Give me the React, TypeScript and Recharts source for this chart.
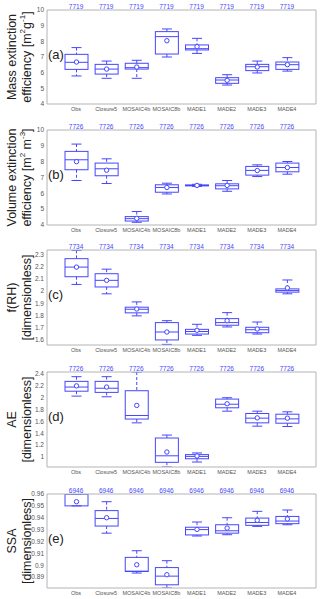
import React from 'react';
import { ComposedChart, Bar, XAxis, YAxis } from 'recharts';

const CATEGORIES = ['Obs', 'Closure5', 'MOSAIC4b', 'MOSAIC8b', 'MADE1', 'MADE2', 'MADE3', 'MADE4'];

// (a) mass extinction efficiency
const MEE_N = [7719, 7719, 7719, 7719, 7719, 7719, 7719, 7719];
const MEE_LO = [5.79, 5.64, 5.64, 7.0, 7.23, 5.21, 5.98, 6.1];
const MEE_Q1 = [6.21, 5.91, 6.23, 7.19, 7.45, 5.32, 6.13, 6.21];
const MEE_MED = [6.66, 6.23, 6.32, 8.3, 7.53, 5.53, 6.38, 6.51];
const MEE_Q3 = [7.17, 6.53, 6.6, 8.62, 7.77, 5.68, 6.53, 6.68];
const MEE_HI = [7.6, 6.74, 6.79, 8.79, 8.19, 5.87, 6.74, 6.96];
const MEE_MEAN = [6.68, 6.23, 6.36, 8.04, 7.66, 5.51, 6.36, 6.51];
const MEE_TICKS = [4, 5, 6, 7, 8, 9, 10];

// (b) volume extinction efficiency
const VEE_N = [7726, 7726, 7726, 7726, 7726, 7726, 7726, 7726];
const VEE_LO = [6.81, 6.62, 4.17, 5.96, 6.44, 6.13, 7.06, 7.21];
const VEE_Q1 = [7.49, 7.11, 4.25, 6.07, 6.47, 6.28, 7.15, 7.36];
const VEE_MED = [8.12, 7.55, 4.4, 6.37, 6.5, 6.48, 7.45, 7.63];
const VEE_Q3 = [8.65, 7.91, 4.53, 6.54, 6.53, 6.6, 7.7, 7.91];
const VEE_HI = [9.11, 8.18, 4.85, 6.64, 6.57, 6.81, 7.8, 8.01];
const VEE_MEAN = [8.0, 7.46, 4.42, 6.37, 6.5, 6.5, 7.44, 7.63];
const VEE_TICKS = [4, 5, 6, 7, 8, 9, 10];

// (c) f(RH)
const FRH_N = [7734, 7734, 7734, 7734, 7734, 7734, 7734, 7734];
const FRH_LO = [2.056, 1.978, 1.795, 1.558, 1.633, 1.703, 1.644, 1.978];
const FRH_Q1 = [2.12, 2.035, 1.82, 1.595, 1.644, 1.717, 1.655, 1.992];
const FRH_MED = [2.2, 2.09, 1.85, 1.661, 1.665, 1.739, 1.68, 2.005];
const FRH_Q3 = [2.27, 2.145, 1.867, 1.739, 1.683, 1.772, 1.7, 2.019];
const FRH_HI = [2.339, 2.183, 1.911, 1.755, 1.725, 1.822, 1.744, 2.093];
const FRH_MEAN = [2.2, 2.09, 1.852, 1.661, 1.675, 1.755, 1.686, 2.027];
const FRH_TICKS = [1.6, 1.7, 1.8, 1.9, 2, 2.1, 2.2, 2.3];

// (d) AE
const AE_N = [7726, 7726, 7726, 7726, 7726, 7726, 7726, 7726];
const AE_LO = [2.027, 2.016, 1.576, 0.831, 0.915, 1.773, 1.52, 1.514];
const AE_Q1 = [2.11, 2.09, 1.64, 0.91, 0.97, 1.83, 1.576, 1.57];
const AE_MED = [2.18, 2.16, 1.7, 1.02, 1.01, 1.89, 1.655, 1.643];
const AE_Q3 = [2.276, 2.276, 2.118, 1.32, 1.04, 1.977, 1.734, 1.722];
const AE_HI = [2.355, 2.355, 2.434, 1.37, 1.068, 2.0, 1.773, 1.762];
const AE_MEAN = [2.2, 2.18, 1.87, 1.084, 1.017, 1.898, 1.66, 1.655];
const AE_TICKS = [1, 1.2, 1.4, 1.6, 1.8, 2, 2.2, 2.4];

// (e) SSA
const SSA_N = [6946, 6946, 6946, 6946, 6946, 6946, 6946, 6946];
const SSA_LO = [0.95, 0.927, 0.8934, 0.8808, 0.9246, 0.9257, 0.9327, 0.9341];
const SSA_Q1 = [0.95, 0.933, 0.8947, 0.8835, 0.9255, 0.927, 0.9336, 0.935];
const SSA_MED = [0.96, 0.9394, 0.895, 0.8908, 0.93, 0.929, 0.936, 0.9372];
const SSA_Q3 = [0.96, 0.946, 0.9066, 0.898, 0.932, 0.9341, 0.9397, 0.9411];
const SSA_HI = [0.96, 0.9535, 0.9122, 0.9038, 0.9364, 0.94, 0.9454, 0.9465];
const SSA_MEAN = [0.9535, 0.94, 0.9004, 0.892, 0.9302, 0.9313, 0.9378, 0.939];
const SSA_TICKS = [0.89, 0.9, 0.91, 0.92, 0.93, 0.94, 0.95, 0.96];

const BLUE = '#4646ff';
const FRAME = '#b4b4b4';
const FONT = '"Liberation Sans", Arial, sans-serif';

type Row = { name: string; n: number; lo: number; q1: number; med: number; q3: number; hi: number; mean: number };

const rows = (n: number[], lo: number[], q1: number[], med: number[], q3: number[], hi: number[], mean: number[]): Row[] =>
    CATEGORIES.map((name, i) => ({ name, n: n[i], lo: lo[i], q1: q1[i], med: med[i], q3: q3[i], hi: hi[i], mean: mean[i] }));

const BoxShape = (props: any) => {
    const { x, y, width, height, payload } = props;
    const top = Math.min(y, y + height);
    const bot = Math.max(y, y + height);
    const span = payload.hi - payload.lo;
    const py = (v: number) => (span > 0 ? top + ((payload.hi - v) / span) * (bot - top) : top);
    const cx = x + width / 2;
    const cap = 5;
    const yq1 = py(payload.q1), yq3 = py(payload.q3);
    return (
        <g stroke={BLUE} strokeWidth={1} fill="none">
            <line x1={cx} x2={cx} y1={top} y2={yq3} strokeDasharray="3 2" />
            <line x1={cx} x2={cx} y1={yq1} y2={bot} strokeDasharray="3 2" />
            <line x1={cx - cap} x2={cx + cap} y1={top} y2={top} />
            <line x1={cx - cap} x2={cx + cap} y1={bot} y2={bot} />
            <rect x={x} y={yq3} width={width} height={Math.max(yq1 - yq3, 0.5)} />
            <line x1={x} x2={x + width} y1={py(payload.med)} y2={py(payload.med)} />
            <circle cx={cx} cy={py(payload.mean)} r={2.2} fill="white" />
        </g>
    );
};

const YTitle = (props: any) => {
    const { viewBox, line1, line2 } = props;
    const cy = viewBox.y + viewBox.height / 2;
    const xs = [12, 27];
    return (
        <g fontFamily={FONT} fontSize={12.5} fill="#222">
            <text x={xs[0]} y={cy} textAnchor="middle" dominantBaseline="central" transform={`rotate(-90, ${xs[0]}, ${cy})`}>{line1}</text>
            <text x={xs[1]} y={cy} textAnchor="middle" dominantBaseline="central" transform={`rotate(-90, ${xs[1]}, ${cy})`}>{line2}</text>
        </g>
    );
};

const sup = (s: string) => <tspan fontSize={8} dy={-5}>{s}</tspan>;
const base = (s: string) => <tspan dy={5}>{s}</tspan>;

type PanelProps = {
    data: Row[];
    domain: [number, number];
    ticks: number[];
    top: number;
    plotH: number;
    tag: string;
    line1: React.ReactNode;
    line2: React.ReactNode;
};

function Panel({ data, domain, ticks, top, plotH, tag, line1, line2 }: PanelProps) {
    const tick = { fill: '#555', fontSize: 5.5, fontFamily: FONT };
    return (
        <div style={{ position: 'absolute', left: 0, top: top - 10, width: 320, height: plotH + 26 }}>
            <ComposedChart width={320} height={plotH + 26} data={data} margin={{ top: 0, right: 0, bottom: 0, left: 0 }} barSize={23}>
                <XAxis xAxisId="b" dataKey="name" height={16} padding={{ left: 14, right: 14 }} interval={0}
                    tick={tick} tickSize={0} tickMargin={3} axisLine={{ stroke: FRAME }} />
                <XAxis xAxisId="t" dataKey="name" orientation="top" height={10} padding={{ left: 14, right: 14 }} interval={0}
                    tickFormatter={(_v: any, i: number) => String(data[i].n)}
                    tick={{ fill: BLUE, fontSize: 6.5, fontFamily: FONT }} tickSize={0} tickMargin={1} axisLine={{ stroke: FRAME }} />
                <YAxis yAxisId="l" type="number" domain={domain} ticks={ticks} interval={0} allowDataOverflow width={47}
                    tick={{ fill: '#555', fontSize: 6.5, fontFamily: FONT }} tickSize={0} tickMargin={3} axisLine={{ stroke: FRAME }}
                    label={<YTitle line1={line1} line2={line2} />} />
                <YAxis yAxisId="r" orientation="right" domain={domain} width={4} tick={false} tickLine={false} axisLine={{ stroke: FRAME }} />
                <Bar xAxisId="b" yAxisId="l" dataKey={(d: Row) => [d.lo, d.hi]} shape={BoxShape} isAnimationActive={false} />
            </ComposedChart>
            <div style={{ position: 'absolute', left: 48, top: 45 + 10 - 8, fontFamily: FONT, fontSize: 13, color: '#222', lineHeight: '16px' }}>{tag}</div>
        </div>
    );
}

export default function App() {
    return (
        <div style={{ position: 'absolute', left: 0, top: 0, width: 320, height: 599, background: 'white' }}>
            <Panel data={rows(MEE_N, MEE_LO, MEE_Q1, MEE_MED, MEE_Q3, MEE_HI, MEE_MEAN)} domain={[4, 10]} ticks={MEE_TICKS}
                top={10} plotH={94} tag="(a)" line1="Mass extinction"
                line2={<>efficiency [m{sup('2')}{base('g')}{sup('-1')}{base(']')}</>} />
            <Panel data={rows(VEE_N, VEE_LO, VEE_Q1, VEE_MED, VEE_Q3, VEE_HI, VEE_MEAN)} domain={[4, 10]} ticks={VEE_TICKS}
                top={130} plotH={95} tag="(b)" line1="Volume extinction"
                line2={<>efficiency [m{sup('2')}{base(' m')}{sup('-3')}{base(']')}</>} />
            <Panel data={rows(FRH_N, FRH_LO, FRH_Q1, FRH_MED, FRH_Q3, FRH_HI, FRH_MEAN)} domain={[1.553, 2.342]} ticks={FRH_TICKS}
                top={250} plotH={95} tag="(c)" line1="f(RH)" line2="[dimensionless]" />
            <Panel data={rows(AE_N, AE_LO, AE_Q1, AE_MED, AE_Q3, AE_HI, AE_MEAN)} domain={[0.831, 2.434]} ticks={AE_TICKS}
                top={372} plotH={95} tag="(d)" line1="AE" line2="[dimensionless]" />
            <Panel data={rows(SSA_N, SSA_LO, SSA_Q1, SSA_MED, SSA_Q3, SSA_HI, SSA_MEAN)} domain={[0.8808, 0.96]} ticks={SSA_TICKS}
                top={494} plotH={94} tag="(e)" line1="SSA" line2="[dimensionless]" />
        </div>
    );
}
